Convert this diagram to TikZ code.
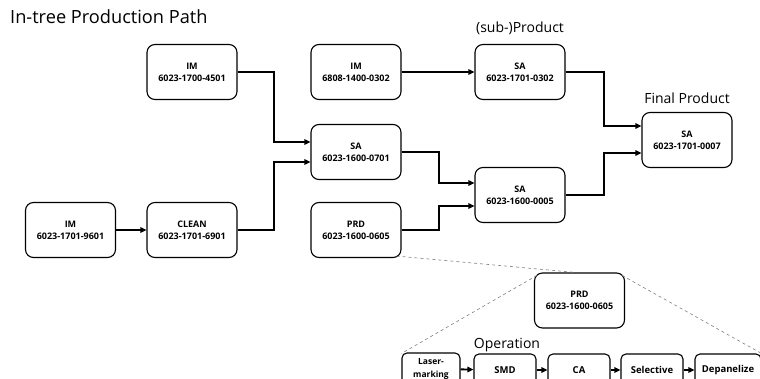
\documentclass[tikz,border=0pt]{standalone}
\usepackage{fontspec}
\setmainfont{Open Sans}
\usetikzlibrary{arrows.meta}
\begin{document}
\begin{tikzpicture}[x=1pt,y=-1pt,
  box/.style={draw, rounded corners=8pt, line width=1.1pt, minimum width=90pt,
    minimum height=55pt, align=center, inner sep=1pt,
    font=\fontsize{9}{12}\selectfont\bfseries},
  opbox/.style={draw, rounded corners=5pt, line width=1.1pt, minimum height=32pt,
    align=center, inner sep=1pt, font=\fontsize{9.5}{13}\selectfont\bfseries},
  arr/.style={line width=1.9pt, -{Triangle[length=6pt,width=5.5pt]}},
  zoomline/.style={dashed, gray, line width=0.6pt},
  heading/.style={font=\fontsize{14}{17}\selectfont, inner sep=0pt}]
\clip (0,0) rectangle (760,378);
\fill[white] (0,0) rectangle (760,378);

% headings
\node[heading, anchor=west, font=\fontsize{18.2}{22}\selectfont] (title) at (10,17) {In-tree Production Path};
\node[heading] (subprod) at (520,28) {(sub-)Product};
\node[heading] (finalprod) at (687,98) {Final Product};

% product tree
\node[box] (im4501) at (192,72) {IM\\6023-1700-4501};
\node[box] (im6808) at (356,72) {IM\\6808-1400-0302};
\node[box] (sa0302) at (520,72) {SA\\6023-1701-0302};
\node[box] (sa0701) at (356,152) {SA\\6023-1600-0701};
\node[box] (sa0007) at (687,140) {SA\\6023-1701-0007};
\node[box] (sa0005) at (520,195) {SA\\6023-1600-0005};
\node[box] (im9601) at (70.5,230) {IM\\6023-1701-9601};
\node[box] (clean) at (192,230) {CLEAN\\6023-1701-6901};
\node[box] (prd) at (356,230) {PRD\\6023-1600-0605};

\draw[arr] (im9601) -- (clean);
\draw[arr] (im6808) -- (sa0302);
\draw[arr] (im4501.east) -- ++(36,0) |- ([yshift=10pt]sa0701.west);
\draw[arr] (clean.east) -- ++(36,0) |- ([yshift=-10pt]sa0701.west);
\draw[arr] (sa0701.east) -- ++(37,0) |- ([yshift=12pt]sa0005.west);
\draw[arr] (prd.east) -- ++(37,0) |- ([yshift=-11pt]sa0005.west);
\draw[arr] (sa0302.east) -- ++(38,0) |- ([yshift=14pt]sa0007.west);
\draw[arr] (sa0005.east) -- ++(38,0) |- ([yshift=-13pt]sa0007.west);

% detail of the PRD step
\node[box] (prdbig) at (579.5,300.5) {PRD\\6023-1600-0605};
\node[heading] (operation) at (507,345) {Operation};
\node[opbox, minimum width=58pt, font=\fontsize{8.5}{12.5}\selectfont\bfseries] (laser) at (431,369) {Laser-\\marking};
\node[opbox, minimum width=62pt] (smd) at (505,370) {SMD};
\node[opbox, minimum width=62pt] (ca) at (579,370) {CA};
\node[opbox, minimum width=62pt] (selective) at (652,370) {Selective};
\node[opbox, minimum width=66pt] (depanelize) at (728,370) {Depanelize};

\draw[arr] (laser) -- (smd);
\draw[arr] (smd) -- (ca);
\draw[arr] (ca) -- (selective);
\draw[arr] (selective) -- (depanelize);

\draw[zoomline] ([xshift=-5pt,yshift=2pt]prd.south east) -- ([xshift=-4pt]prdbig.north);
\draw[zoomline] ([xshift=3pt,yshift=-3pt]prdbig.north west) -- ([yshift=-1pt]laser.north west);
\draw[zoomline] ([xshift=-3pt,yshift=-3pt]prdbig.north east) -- (depanelize.north east);
\end{tikzpicture}
\end{document}
